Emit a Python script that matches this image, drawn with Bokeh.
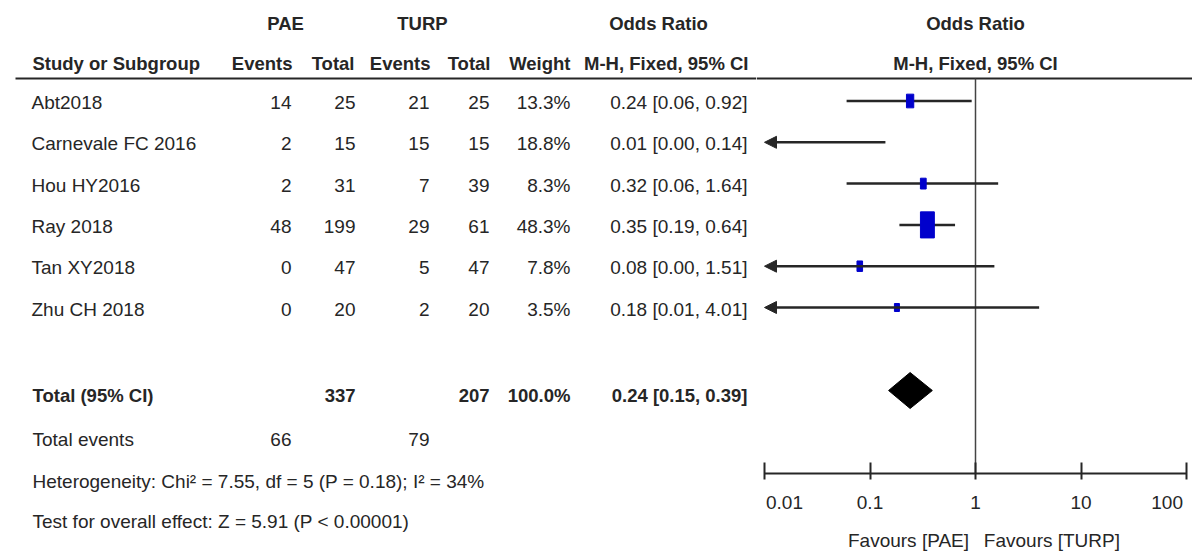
import math
from bokeh.plotting import figure
from bokeh.models import Range1d, ColumnDataSource, Arrow, NormalHead, FixedTicker
from bokeh.layouts import row
from bokeh.embed import file_html
from bokeh.resources import INLINE
from bokeh.core.properties import value

# ---------------- data ----------------
studies = ["Abt2018", "Carnevale FC 2016", "Hou HY2016", "Ray 2018", "Tan XY2018", "Zhu CH 2018"]
pae_events = [14, 2, 2, 48, 0, 0]
pae_total = [25, 15, 31, 199, 47, 20]
turp_events = [21, 15, 7, 29, 5, 2]
turp_total = [25, 15, 39, 61, 47, 20]
weights = [13.3, 18.8, 8.3, 48.3, 7.8, 3.5]
odds = [0.24, 0.01, 0.32, 0.35, 0.08, 0.18]
ci_low = [0.06, 0.00, 0.06, 0.19, 0.00, 0.01]
ci_high = [0.92, 0.14, 1.64, 0.64, 1.51, 4.01]

total_or = 0.24
total_lo = 0.15
total_hi = 0.39
total_pae = 337
total_turp = 207
total_weight = 100.0
events_pae = 66
events_turp = 79
heterogeneity = "Heterogeneity: Chi² = 7.55, df = 5 (P = 0.18); I² = 34%"
overall = "Test for overall effect: Z = 5.91 (P < 0.00001)"

axis_ticks = [0.01, 0.1, 1, 10, 100]
axis_labels = ["0.01", "0.1", "1", "10", "100"]
favours_left = "Favours [PAE]"
favours_right = "Favours [TURP]"

# ---------------- styles / layout ----------------
FONT_NAME = "Liberation Sans"
FONT = value(FONT_NAME)
FS = "19px"
FSB = "18.5px"
TXT = "#262626"
LINE = "#262626"
BLUE = "#0000cc"

H = 560
LEFT_W = 756
RIGHT_W = 436
ROW0 = 100.5     # page y of first study row
PITCH = 41.3     # px between study rows
DEC = 105.5      # px per decade on the OR axis
X001 = 764       # page x of OR = 0.01
AXIS_Y = 473     # page y of the OR axis line
RULE_Y = 78      # page y of header rule


def r(page_y):
    return (page_y - ROW0) / PITCH


TOFF = 1.5 / PITCH

common_text = dict(text_font=FONT, text_font_size=FS, text_color=TXT, text_baseline="middle")
bold_text = dict(text_font=FONT, text_font_size=FSB, text_color=TXT, text_baseline="middle",
                 text_font_style="bold")

# ---------------- left: table ----------------
left = figure(width=LEFT_W, height=H, x_range=Range1d(0, LEFT_W),
              y_range=Range1d(r(H), r(0)),
              toolbar_location=None, output_backend="svg", min_border=0,
              x_axis_location=None, y_axis_location=None, outline_line_color=None,
              background_fill_color="white", border_fill_color="white")
left.frame_align = False
left.xgrid.grid_line_color = None
left.ygrid.grid_line_color = None

n = len(studies)
ys = [i + TOFF for i in range(n)]
src = ColumnDataSource(dict(
    y=ys,
    name=studies,
    e1=[str(v) for v in pae_events],
    t1=[str(v) for v in pae_total],
    e2=[str(v) for v in turp_events],
    t2=[str(v) for v in turp_total],
    w=[f"{v:.1f}%" for v in weights],
    ci=[f"{o:.2f} [{lo:.2f}, {hi:.2f}]" for o, lo, hi in zip(odds, ci_low, ci_high)],
))

left.text(x=31, y="y", text="name", source=src, text_align="left", **common_text)
for col, px in [("e1", 291), ("t1", 355), ("e2", 429), ("t2", 489), ("w", 570), ("ci", 747)]:
    left.text(x=px, y="y", text=col, source=src, text_align="right", **common_text)

# headers
left.text(x=[285, 422, 658], y=[r(23)] * 3, text=["PAE", "TURP", "Odds Ratio"],
          text_align="center", **bold_text)
left.text(x=[32], y=[r(63)], text=["Study or Subgroup"], text_align="left", **bold_text)
left.text(x=[292, 354, 430, 490, 570, 748], y=[r(63)] * 6,
          text=["Events", "Total", "Events", "Total", "Weight", "M-H, Fixed, 95% CI"],
          text_align="right", **bold_text)
left.segment(x0=[15], x1=[LEFT_W], y0=[r(RULE_Y)], y1=[r(RULE_Y)], line_width=2, line_color=LINE)

# total rows
yt_txt = r(395)
left.text(x=[32], y=[yt_txt], text=["Total (95% CI)"], text_align="left", **bold_text)
left.text(x=[355, 489, 570, 747], y=[yt_txt] * 4,
          text=[str(total_pae), str(total_turp), f"{total_weight:.1f}%",
                f"{total_or:.2f} [{total_lo:.2f}, {total_hi:.2f}]"],
          text_align="right", **bold_text)
left.text(x=[32], y=[r(439)], text=["Total events"], text_align="left", **common_text)
left.text(x=[291, 429], y=[r(439)] * 2, text=[str(events_pae), str(events_turp)],
          text_align="right", **common_text)
left.text(x=[32, 32], y=[r(481), r(521)], text=[heterogeneity, overall],
          text_align="left", **common_text)

# ---------------- right: forest ----------------
x_lo = 10 ** (-2 - (X001 - LEFT_W) / DEC)
x_hi = 10 ** (-2 + (LEFT_W + RIGHT_W - X001) / DEC)

right = figure(width=RIGHT_W, height=H, x_axis_type="log", x_range=Range1d(x_lo, x_hi),
               y_range=Range1d(r(AXIS_Y), r(0)),
               toolbar_location=None, output_backend="svg",
               min_border_left=0, min_border_right=0, min_border_top=0,
               min_border_bottom=H - AXIS_Y,
               y_axis_location=None, outline_line_color=None,
               background_fill_color="white", border_fill_color="white")
right.frame_align = False
right.xgrid.grid_line_color = None
right.ygrid.grid_line_color = None

ax = right.xaxis[0]
ax.ticker = FixedTicker(ticks=axis_ticks)
disp = list(axis_labels)
disp[0] = "\u2002" + disp[0]
disp[-1] = disp[-1] + "\u2002"
ax.major_label_overrides = {t: s for t, s in zip(axis_ticks, disp)}
ax.bounds = (axis_ticks[0], axis_ticks[-1])
ax.axis_line_color = LINE
ax.axis_line_width = 2
ax.major_tick_line_color = LINE
ax.major_tick_line_width = 2
ax.major_tick_in = 11
ax.major_tick_out = 6
ax.minor_tick_in = 0
ax.minor_tick_out = 0
ax.minor_tick_line_color = None
ax.major_label_text_font = FONT_NAME
ax.major_label_text_font_size = FS
ax.major_label_text_color = TXT
ax.major_label_standoff = 12
ax.axis_label = "\u2003" + favours_left + " \u2002" + favours_right
ax.axis_label_text_font = FONT_NAME
ax.axis_label_text_font_size = FS
ax.axis_label_text_font_style = "normal"
ax.axis_label_text_color = TXT
ax.axis_label_standoff = 14

# header rule & headers
right.segment(x0=[x_lo], x1=[x_hi], y0=[r(RULE_Y)], y1=[r(RULE_Y)], line_width=2, line_color=LINE)
right.text(x=[1, 1], y=[r(23), r(63)], text=["Odds Ratio", "M-H, Fixed, 95% CI"],
           text_align="center", **bold_text)
# line of no effect
right.segment(x0=[1], x1=[1], y0=[r(RULE_Y)], y1=[r(AXIS_Y)], line_width=1.5, line_color="#444444")

# CI lines (lower limits at or below the axis minimum are drawn as arrows)
lo_bound = axis_ticks[0]
seg = dict(x0=[], x1=[], y=[])
arr = dict(x0=[], x1=[], y=[])
for i in range(n):
    if ci_low[i] <= lo_bound:
        arr["x0"].append(ci_high[i]); arr["x1"].append(lo_bound); arr["y"].append(i)
    else:
        seg["x0"].append(ci_low[i]); seg["x1"].append(ci_high[i]); seg["y"].append(i)
right.segment(x0="x0", x1="x1", y0="y", y1="y", source=ColumnDataSource(seg),
              line_width=2.5, line_color=LINE)
right.add_layout(Arrow(end=NormalHead(size=12, fill_color=LINE, line_color=LINE, line_width=1),
                       x_start="x0", y_start="y", x_end="x1", y_end="y",
                       source=ColumnDataSource(arr), line_width=2.5, line_color=LINE))

# weight squares
msrc = dict(x=[], y=[], w=[], h=[])
for i in range(n):
    if odds[i] > lo_bound:
        s = math.sqrt(weights[i])
        msrc["x"].append(odds[i]); msrc["y"].append(i)
        msrc["w"].append(max(5.0, 2.0 * s)); msrc["h"].append(max(8.0, 3.75 * s))
right.rect(x="x", y="y", width="w", height="h", width_units="screen", height_units="screen",
           source=ColumnDataSource(msrc), fill_color=BLUE, line_color=BLUE)

# pooled diamond
yd = r(390)
hh = 18 / PITCH
right.patch(x=[total_lo, total_or, total_hi, total_or], y=[yd, yd - hh, yd, yd + hh],
            fill_color="black", line_color="black")

layout = row(left, right)
open("out.html", "w").write(file_html(layout, INLINE))
